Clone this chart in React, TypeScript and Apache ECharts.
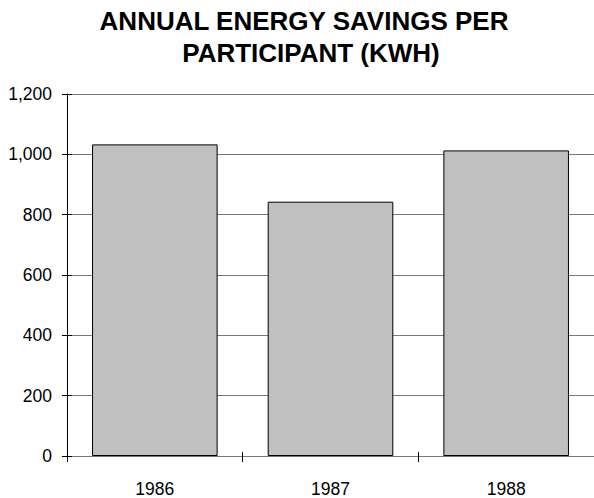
import React, { useEffect, useRef } from "react";
import * as echarts from "echarts";

// Annual energy savings per participant, in kWh
const years = ["1986", "1987", "1988"];
const savingsKwh = [1033, 843, 1013];
const yTicks = { min: 0, max: 1200, interval: 200 };
const titleLines = ["ANNUAL ENERGY SAVINGS PER", "PARTICIPANT (KWH)"];

const FONT = '"Liberation Sans", Arial, Helvetica, sans-serif';

const titleStyle = {
  fontFamily: FONT,
  fontWeight: "bold",
  fontSize: 26,
  color: "#000000",
};

export default function App() {
  const ref = useRef<HTMLDivElement>(null);

  useEffect(() => {
    if (!ref.current) return;
    const chart = echarts.init(ref.current, undefined, { renderer: "svg" });
    chart.setOption({
      animation: false,
      backgroundColor: "#ffffff",
      title: [
        { text: titleLines[0], left: 304, top: 8, textAlign: "center", padding: 0, textStyle: titleStyle },
        { text: titleLines[1], left: 311, top: 40, textAlign: "center", padding: 0, textStyle: titleStyle },
      ],
      grid: { left: 67, right: -3, top: 94, bottom: 41 },
      xAxis: [
        {
          type: "category",
          data: years,
          axisLine: { show: true, lineStyle: { color: "#7a7a7a", width: 1 } },
          axisTick: { show: true, length: 6, lineStyle: { color: "#000" } },
          axisLabel: {
            margin: 24,
            fontFamily: FONT,
            fontSize: 17.5,
            color: "#000",
          },
          splitLine: { show: false },
        },
        {
          type: "category",
          data: years,
          position: "bottom",
          axisLine: { show: false },
          axisTick: { show: true, inside: true, length: 4, lineStyle: { color: "#000" } },
          axisLabel: { show: false },
          splitLine: { show: false },
        },
      ],
      yAxis: [
        {
          type: "value",
          ...yTicks,
          axisLine: { show: true, lineStyle: { color: "#000", width: 1 } },
          axisTick: { show: true, length: 5, lineStyle: { color: "#000" } },
          axisLabel: {
            margin: 15,
            fontFamily: FONT,
            fontSize: 17.5,
            color: "#000",
            formatter: (v: number) => v.toLocaleString("en-US"),
          },
          splitLine: { show: true, lineStyle: { color: "#7a7a7a", width: 1 } },
        },
        {
          type: "value",
          ...yTicks,
          position: "left",
          axisLine: { show: false },
          axisTick: { show: true, inside: true, length: 5, lineStyle: { color: "#000" } },
          axisLabel: { show: false },
          splitLine: { show: false },
        },
      ],
      series: [
        {
          type: "bar",
          data: savingsKwh,
          barWidth: "71.5%",
          itemStyle: { color: "#c0c0c0", borderColor: "#000", borderWidth: 1 },
          z: 3,
        },
      ],
    });
    return () => chart.dispose();
  }, []);

  return <div ref={ref} style={{ width: 594, height: 498, position: "absolute", left: 0, top: 0 }} />;
}
